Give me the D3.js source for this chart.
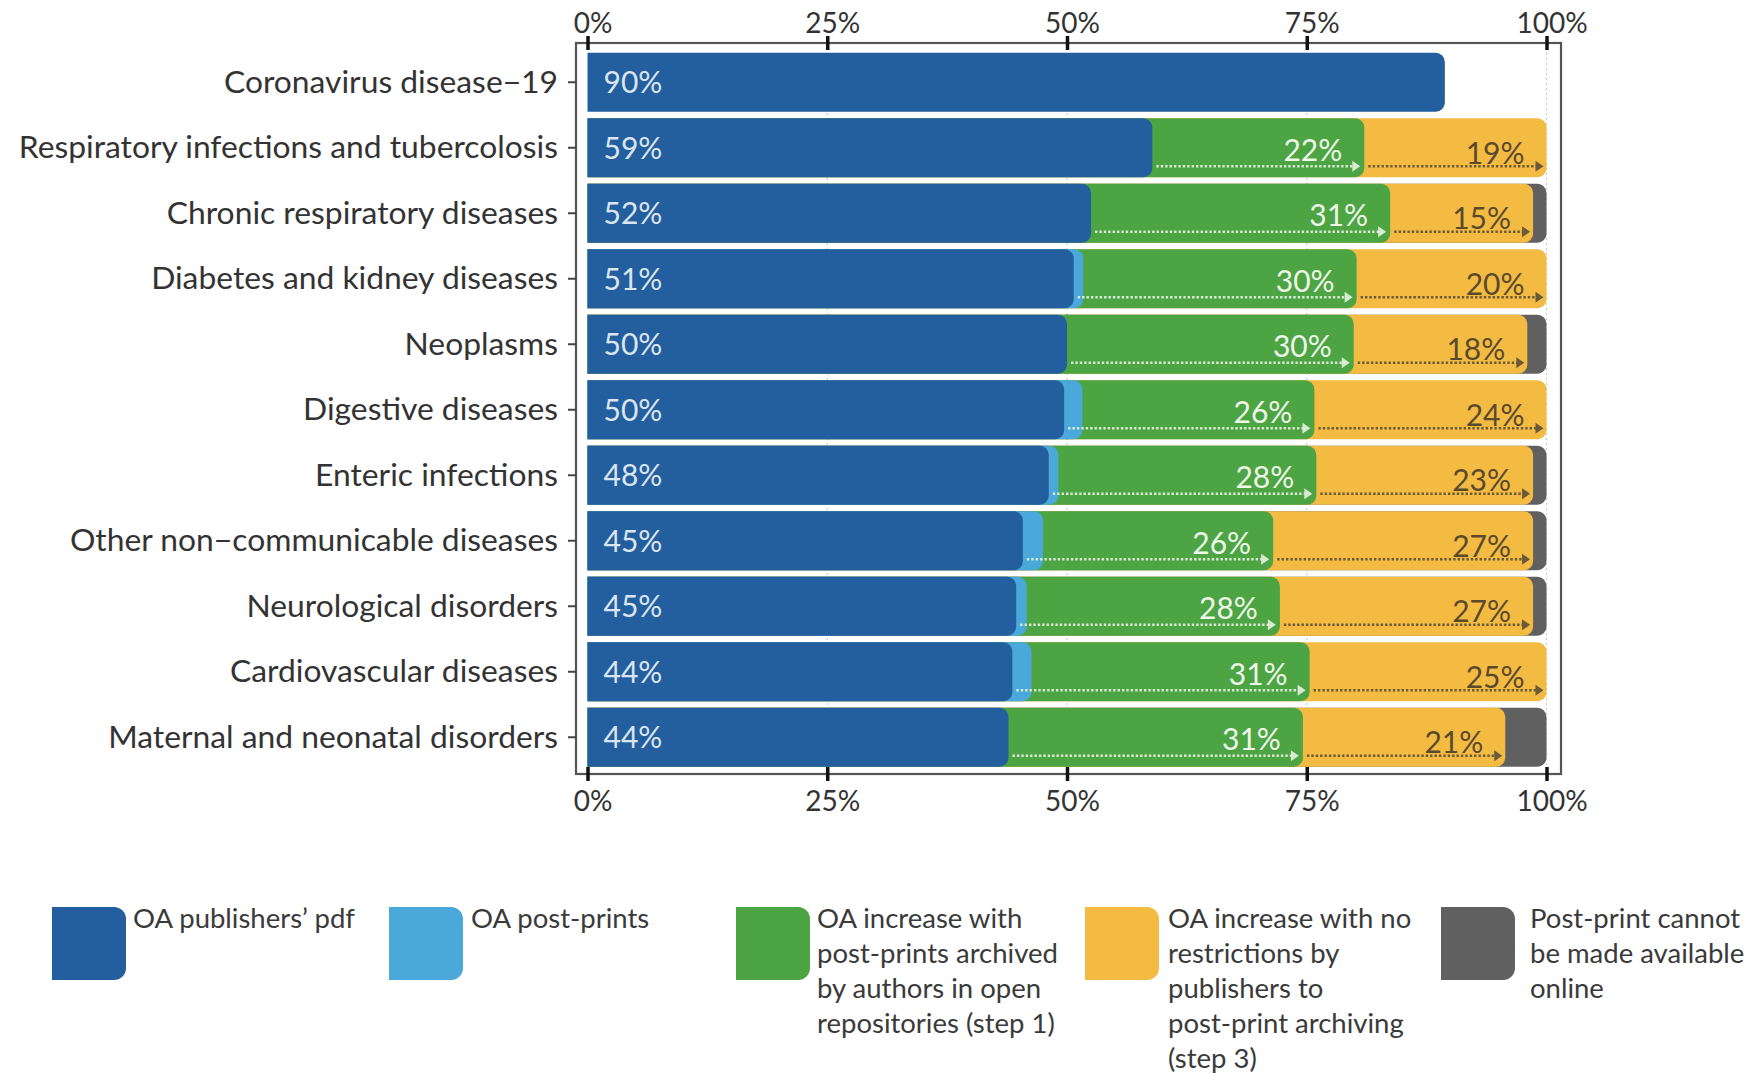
<!DOCTYPE html>
<html>
<head>
<meta charset="utf-8">
<script src="https://cdn.jsdelivr.net/npm/d3@7"></script>
<style>
body{margin:0;background:#fff;}
svg{display:block;font-family:Lato,'Open Sans',sans-serif;}
</style>
</head>
<body>
<script>
const width=1760;
const height=1073;

// data (percent of publications)
const categories=['Coronavirus disease\u221219','Respiratory infections and tubercolosis','Chronic respiratory diseases','Diabetes and kidney diseases','Neoplasms','Digestive diseases','Enteric infections','Other non\u2212communicable diseases','Neurological disorders','Cardiovascular diseases','Maternal and neonatal disorders'];
const pdfVals=[89.4,58.9,52.5,50.7,50.0,49.7,48.1,45.4,44.7,44.3,43.9];
const postVals=[0,0,0,1.0,0,1.9,1.0,2.1,1.1,2.0,0];
const greenVals=[0,22.1,31.2,28.5,29.9,24.2,26.9,24.0,26.4,29.0,30.7];
const yellowVals=[0,19.0,14.9,19.8,18.1,24.2,22.6,27.1,26.4,24.7,21.1];
const grayVals=[0,0,1.4,0,2.0,0,1.4,1.4,1.4,0,4.3];
const pdfLabels=['90%','59%','52%','51%','50%','50%','48%','45%','45%','44%','44%'];
const greenLabels=['','22%','31%','30%','30%','26%','28%','26%','28%','31%','31%'];
const yellowLabels=['','19%','15%','20%','18%','24%','23%','27%','27%','25%','21%'];
const xTicks=[0,25,50,75,100];
const seriesNames=['OA publishers\u2019 pdf','OA post-prints','OA increase with|post-prints archived|by authors in open|repositories (step 1)','OA increase with no|restrictions by|publishers to|post-print archiving|(step 3)','Post-print cannot|be made available|online'];
const colors=['#235e9e','#4aa8da','#4ca443','#f4bb43','#606060'];

const svg=d3.select('body').append('svg').attr('width',width).attr('height',height);

const x=d3.scaleLinear().domain([0,100]).range([587.5,1546.5]);
const y=d3.scaleBand().domain(categories).range([49.5,770]).paddingInner(0.1).paddingOuter(0.05);
const frame={left:576,right:1561,top:43,bottom:774};

// light dotted grid
svg.append('g').selectAll('line').data(xTicks.slice(1)).enter().append('line')
    .attr('x1',d=>x(d)).attr('x2',d=>x(d))
    .attr('y1',frame.top).attr('y2',frame.bottom)
    .attr('stroke','#c3cad6').attr('stroke-width',1.2).attr('stroke-dasharray','2,3');

function rightRound(x0,x1,yy,h,r){
    r=Math.min(r,x1-x0);
    return `M${x0},${yy}H${x1-r}A${r},${r} 0 0 1 ${x1},${yy+r}V${yy+h-r}A${r},${r} 0 0 1 ${x1-r},${yy+h}H${x0}Z`;
}

const rows=categories.map((c,i)=>{
    const vals=[pdfVals[i],postVals[i],greenVals[i],yellowVals[i],grayVals[i]];
    let cum=0;
    const ends=vals.map(v=>cum+=v);
    return {c,i,vals,ends};
});

const bars=svg.append('g');
rows.forEach(row=>{
    const y0=y(row.c), h=y.bandwidth();
    for(let k=4;k>=0;k--){
        if(row.vals[k]<=0) continue;
        bars.append('path').attr('d',rightRound(x(0),x(row.ends[k]),y0,h,9)).attr('fill',colors[k]);
    }
});

// dotted arrows
function arrow(g,x0,x1,yy,col){
    g.append('line').attr('x1',x0).attr('x2',x1-7).attr('y1',yy).attr('y2',yy)
        .attr('stroke',col).attr('stroke-width',2.6).attr('stroke-dasharray','2.4,2');
    g.append('path').attr('d',`M${x1-8},${yy-5.5}L${x1},${yy}L${x1-8},${yy+5.5}Z`).attr('fill',col);
}
const arrows=svg.append('g');
rows.forEach(row=>{
    if(!greenLabels[row.i]) return;
    const yy=y(row.c)+y.bandwidth()-11;
    arrow(arrows,x(row.ends[0])+4,x(row.ends[2])-4,yy,'#d8ead2');
    arrow(arrows,x(row.ends[2])+4,x(row.ends[3])-3,yy,'#6a5a38');
});

// value labels
const labels=svg.append('g').style('font-size','30px');
labels.selectAll('.pdf').data(rows).enter().append('text')
    .attr('x',x(0)+16).attr('y',d=>y(d.c)+y.bandwidth()/2+11)
    .attr('fill','#dbe5f0').text(d=>pdfLabels[d.i]);
labels.selectAll('.gr').data(rows.filter(d=>greenLabels[d.i])).enter().append('text')
    .attr('x',d=>x(d.ends[2])-22).attr('y',d=>y(d.c)+y.bandwidth()/2+13)
    .attr('text-anchor','end').attr('fill','#eef7ea').text(d=>greenLabels[d.i]);
labels.selectAll('.ye').data(rows.filter(d=>yellowLabels[d.i])).enter().append('text')
    .attr('x',d=>x(d.ends[3])-22).attr('y',d=>y(d.c)+y.bandwidth()/2+16)
    .attr('text-anchor','end').attr('fill','#5a4a2c').text(d=>yellowLabels[d.i]);

// frame
svg.append('rect').attr('x',frame.left).attr('y',frame.top)
    .attr('width',frame.right-frame.left).attr('height',frame.bottom-frame.top)
    .attr('fill','none').attr('stroke','#555').attr('stroke-width',2.2);

// axes
const topAxis=svg.append('g').attr('transform',`translate(0,${frame.top})`)
    .call(d3.axisTop(x).tickValues(xTicks).tickFormat(d=>d+'%').tickSize(7).tickPadding(3));
const botAxis=svg.append('g').attr('transform',`translate(0,${frame.bottom})`)
    .call(d3.axisBottom(x).tickValues(xTicks).tickFormat(d=>d+'%').tickSize(7).tickPadding(10));
[topAxis,botAxis].forEach(a=>{
    a.select('.domain').remove();
    a.selectAll('.tick line').attr('y1',-7).attr('y2',7).attr('stroke','#111').attr('stroke-width',3.5);
    a.selectAll('.tick text').attr('dx',5).style('font-size','28px').style('font-family','Lato').attr('fill','#333');
});

const leftAxis=svg.append('g').attr('transform',`translate(${frame.left},0)`)
    .call(d3.axisLeft(y).tickSize(8).tickPadding(10));
leftAxis.select('.domain').remove();
leftAxis.selectAll('.tick line').attr('stroke','#444').attr('stroke-width',2);
leftAxis.selectAll('.tick text').attr('dy','0.33em').style('font-size','31.8px').style('font-family','Lato').attr('fill','#333');

// legend
const legX=[52,389,736,1085,1441];
const legTextX=[133,471,817,1168,1530];
const leg=svg.append('g');
seriesNames.forEach((name,k)=>{
    leg.append('path').attr('d',rightRound(legX[k],legX[k]+74,907,73,12)).attr('fill',colors[k]);
    const t=leg.append('text').attr('x',legTextX[k]).attr('y',928).style('font-size','27.5px').attr('fill','#3a3a3a');
    name.split('|').forEach((line,j)=>{
        t.append('tspan').attr('x',legTextX[k]).attr('dy',j?35:0).text(line);
    });
});
</script>
</body>
</html>
